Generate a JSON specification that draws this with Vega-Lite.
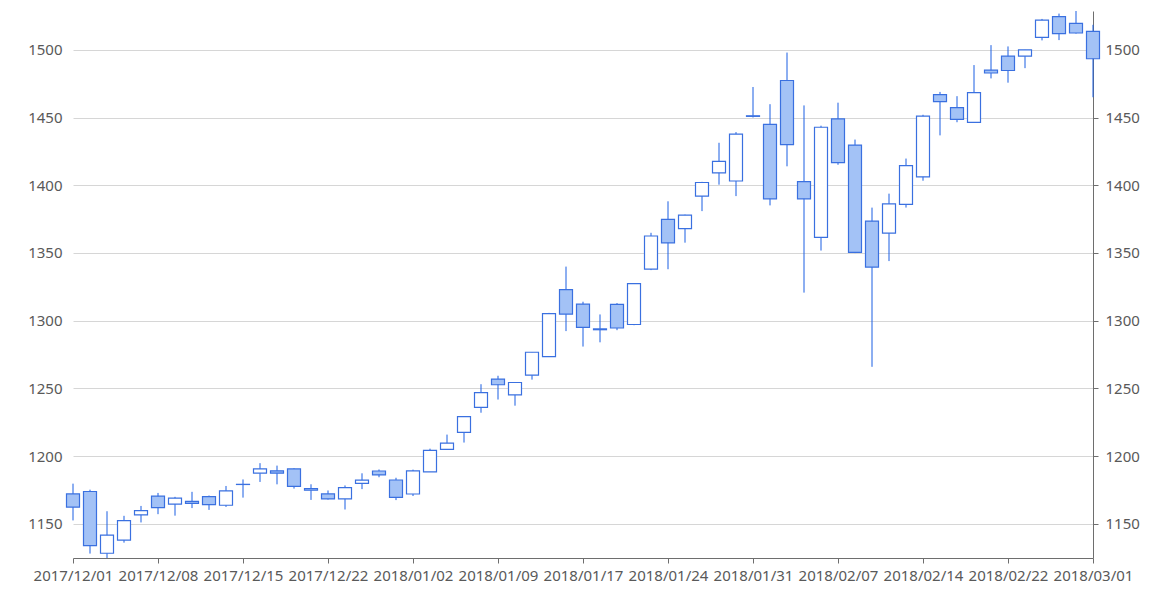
{
  "$schema": "https://vega.github.io/schema/vega-lite/v6.json",
  "width": 1020,
  "height": 547,
  "autosize": {"type": "none"},
  "padding": {"left": 73, "top": 11, "right": 77, "bottom": 42},
  "background": "white",
  "config": {
    "view": {"stroke": null},
    "font": "Noto Sans",
    "axis": {"labelFont": "Noto Sans", "labelFontSize": 15, "labelColor": "#595959"}
  },
  "data": {
    "values": [
      {"date": "2017/12/01", "open": 1172.05, "high": 1179.65, "low": 1152.50, "close": 1162.35},
      {"date": "2017/12/04", "open": 1173.85, "high": 1175.20, "low": 1128.00, "close": 1133.95},
      {"date": "2017/12/05", "open": 1128.26, "high": 1159.27, "low": 1124.74, "close": 1141.57},
      {"date": "2017/12/06", "open": 1137.99, "high": 1155.89, "low": 1136.08, "close": 1152.35},
      {"date": "2017/12/07", "open": 1156.59, "high": 1163.19, "low": 1151.00, "close": 1159.79},
      {"date": "2017/12/08", "open": 1170.40, "high": 1172.79, "low": 1157.10, "close": 1162.00},
      {"date": "2017/12/11", "open": 1164.60, "high": 1169.90, "low": 1156.00, "close": 1168.92},
      {"date": "2017/12/12", "open": 1166.51, "high": 1173.60, "low": 1161.61, "close": 1165.08},
      {"date": "2017/12/13", "open": 1170.00, "high": 1170.87, "low": 1160.27, "close": 1164.13},
      {"date": "2017/12/14", "open": 1163.71, "high": 1177.93, "low": 1162.45, "close": 1174.26},
      {"date": "2017/12/15", "open": 1179.03, "high": 1182.75, "low": 1169.33, "close": 1179.14},
      {"date": "2017/12/18", "open": 1187.37, "high": 1194.78, "low": 1180.91, "close": 1190.58},
      {"date": "2017/12/19", "open": 1189.15, "high": 1192.97, "low": 1179.14, "close": 1187.38},
      {"date": "2017/12/20", "open": 1190.50, "high": 1191.00, "low": 1176.00, "close": 1177.62},
      {"date": "2017/12/21", "open": 1175.90, "high": 1179.17, "low": 1167.64, "close": 1174.76},
      {"date": "2017/12/22", "open": 1172.08, "high": 1174.62, "low": 1167.83, "close": 1168.36},
      {"date": "2017/12/26", "open": 1168.36, "high": 1178.32, "low": 1160.55, "close": 1176.76},
      {"date": "2017/12/27", "open": 1179.91, "high": 1187.29, "low": 1175.61, "close": 1182.26},
      {"date": "2017/12/28", "open": 1189.00, "high": 1190.10, "low": 1184.38, "close": 1186.10},
      {"date": "2017/12/29", "open": 1182.35, "high": 1184.00, "low": 1167.50, "close": 1169.47},
      {"date": "2018/01/02", "open": 1172.00, "high": 1190.00, "low": 1170.51, "close": 1189.01},
      {"date": "2018/01/03", "open": 1188.30, "high": 1205.49, "low": 1188.30, "close": 1204.20},
      {"date": "2018/01/04", "open": 1205.00, "high": 1215.87, "low": 1204.66, "close": 1209.59},
      {"date": "2018/01/05", "open": 1217.51, "high": 1229.14, "low": 1210.00, "close": 1229.14},
      {"date": "2018/01/08", "open": 1236.00, "high": 1253.08, "low": 1232.03, "close": 1246.87},
      {"date": "2018/01/09", "open": 1256.90, "high": 1259.33, "low": 1241.76, "close": 1252.70},
      {"date": "2018/01/10", "open": 1245.15, "high": 1254.33, "low": 1237.23, "close": 1254.33},
      {"date": "2018/01/11", "open": 1259.74, "high": 1276.77, "low": 1256.46, "close": 1276.68},
      {"date": "2018/01/12", "open": 1273.39, "high": 1305.76, "low": 1273.39, "close": 1305.20},
      {"date": "2018/01/16", "open": 1323.00, "high": 1339.94, "low": 1292.30, "close": 1304.86},
      {"date": "2018/01/17", "open": 1312.24, "high": 1314.00, "low": 1280.88, "close": 1295.00},
      {"date": "2018/01/18", "open": 1293.95, "high": 1304.60, "low": 1284.02, "close": 1293.32},
      {"date": "2018/01/19", "open": 1312.00, "high": 1313.00, "low": 1292.99, "close": 1294.58},
      {"date": "2018/01/22", "open": 1297.17, "high": 1327.45, "low": 1296.66, "close": 1327.31},
      {"date": "2018/01/23", "open": 1338.09, "high": 1364.90, "low": 1337.34, "close": 1362.54},
      {"date": "2018/01/24", "open": 1374.82, "high": 1388.16, "low": 1338.00, "close": 1357.51},
      {"date": "2018/01/25", "open": 1368.00, "high": 1378.34, "low": 1357.62, "close": 1377.95},
      {"date": "2018/01/26", "open": 1392.01, "high": 1402.53, "low": 1380.91, "close": 1402.05},
      {"date": "2018/01/29", "open": 1409.18, "high": 1431.39, "low": 1400.44, "close": 1417.68},
      {"date": "2018/01/30", "open": 1403.17, "high": 1439.25, "low": 1392.00, "close": 1437.82},
      {"date": "2018/01/31", "open": 1451.30, "high": 1472.58, "low": 1450.04, "close": 1450.89},
      {"date": "2018/02/01", "open": 1445.00, "high": 1459.88, "low": 1385.14, "close": 1390.00},
      {"date": "2018/02/02", "open": 1477.39, "high": 1498.00, "low": 1414.00, "close": 1429.95},
      {"date": "2018/02/05", "open": 1402.62, "high": 1458.98, "low": 1320.72, "close": 1390.00},
      {"date": "2018/02/06", "open": 1361.46, "high": 1443.99, "low": 1351.79, "close": 1442.84},
      {"date": "2018/02/07", "open": 1449.00, "high": 1460.99, "low": 1415.15, "close": 1416.78},
      {"date": "2018/02/08", "open": 1429.68, "high": 1433.75, "low": 1349.94, "close": 1350.50},
      {"date": "2018/02/09", "open": 1373.49, "high": 1383.50, "low": 1265.93, "close": 1339.60},
      {"date": "2018/02/12", "open": 1364.67, "high": 1393.81, "low": 1344.01, "close": 1386.23},
      {"date": "2018/02/13", "open": 1385.93, "high": 1419.72, "low": 1383.53, "close": 1414.51},
      {"date": "2018/02/14", "open": 1406.25, "high": 1452.06, "low": 1403.36, "close": 1451.05},
      {"date": "2018/02/15", "open": 1466.89, "high": 1468.94, "low": 1436.84, "close": 1461.76},
      {"date": "2018/02/16", "open": 1457.37, "high": 1465.80, "low": 1446.56, "close": 1448.69},
      {"date": "2018/02/20", "open": 1446.49, "high": 1488.77, "low": 1446.49, "close": 1468.35},
      {"date": "2018/02/21", "open": 1485.00, "high": 1503.49, "low": 1478.92, "close": 1482.92},
      {"date": "2018/02/22", "open": 1495.36, "high": 1502.54, "low": 1475.76, "close": 1484.76},
      {"date": "2018/02/23", "open": 1495.34, "high": 1500.00, "low": 1486.50, "close": 1500.00},
      {"date": "2018/02/26", "open": 1509.20, "high": 1522.84, "low": 1507.00, "close": 1521.95},
      {"date": "2018/02/27", "open": 1524.50, "high": 1526.78, "low": 1507.21, "close": 1511.98},
      {"date": "2018/02/28", "open": 1519.51, "high": 1528.70, "low": 1512.00, "close": 1512.45},
      {"date": "2018/03/01", "open": 1513.60, "high": 1518.49, "low": 1465.00, "close": 1493.45}
    ]
  },
  "encoding": {
    "x": {
      "field": "date",
      "type": "ordinal",
      "sort": null,
      "scale": {"type": "point", "padding": 0},
      "axis": {
        "title": null,
        "values": ["2017/12/01", "2017/12/08", "2017/12/15", "2017/12/22", "2018/01/02", "2018/01/09", "2018/01/17", "2018/01/24", "2018/01/31", "2018/02/07", "2018/02/14", "2018/02/22", "2018/03/01"],
        "labelAngle": 0,
        "domainColor": "#6e6e6e",
        "tickColor": "#6e6e6e",
        "tickSize": 5,
        "labelPadding": 5,
        "grid": false
      }
    }
  },
  "layer": [
    {
      "mark": {"type": "rule", "stroke": "#1a5fe3", "strokeWidth": 1},
      "encoding": {
        "y": {
          "field": "low",
          "type": "quantitative",
          "scale": {"domain": [1124.74, 1528.7], "nice": false, "zero": false},
          "axis": {
            "title": null,
            "orient": "left",
            "format": "d",
            "values": [1150, 1200, 1250, 1300, 1350, 1400, 1450, 1500],
            "domain": false,
            "ticks": false,
            "labelPadding": 11,
            "grid": true,
            "gridColor": "#d6d6d6",
            "gridWidth": 1
          }
        },
        "y2": {"field": "high"}
      }
    },
    {
      "mark": {"type": "bar", "size": 13, "strokeWidth": 1.2, "stroke": "#3a70e0"},
      "encoding": {
        "y": {
          "field": "open",
          "type": "quantitative",
          "scale": {"domain": [1124.74, 1528.7], "nice": false, "zero": false},
          "axis": {
            "title": null,
            "orient": "right",
            "format": "d",
            "values": [1150, 1200, 1250, 1300, 1350, 1400, 1450, 1500],
            "domain": true,
            "domainColor": "#6e6e6e",
            "ticks": true,
            "tickColor": "#6e6e6e",
            "tickSize": 5,
            "labelPadding": 7,
            "grid": false
          }
        },
        "y2": {"field": "close"},
        "fill": {
          "condition": {"test": "datum.open > datum.close", "value": "#a3c2f6"},
          "value": "#ffffff"
        }
      }
    }
  ],
  "resolve": {"scale": {"y": "shared"}, "axis": {"y": "independent"}}
}
